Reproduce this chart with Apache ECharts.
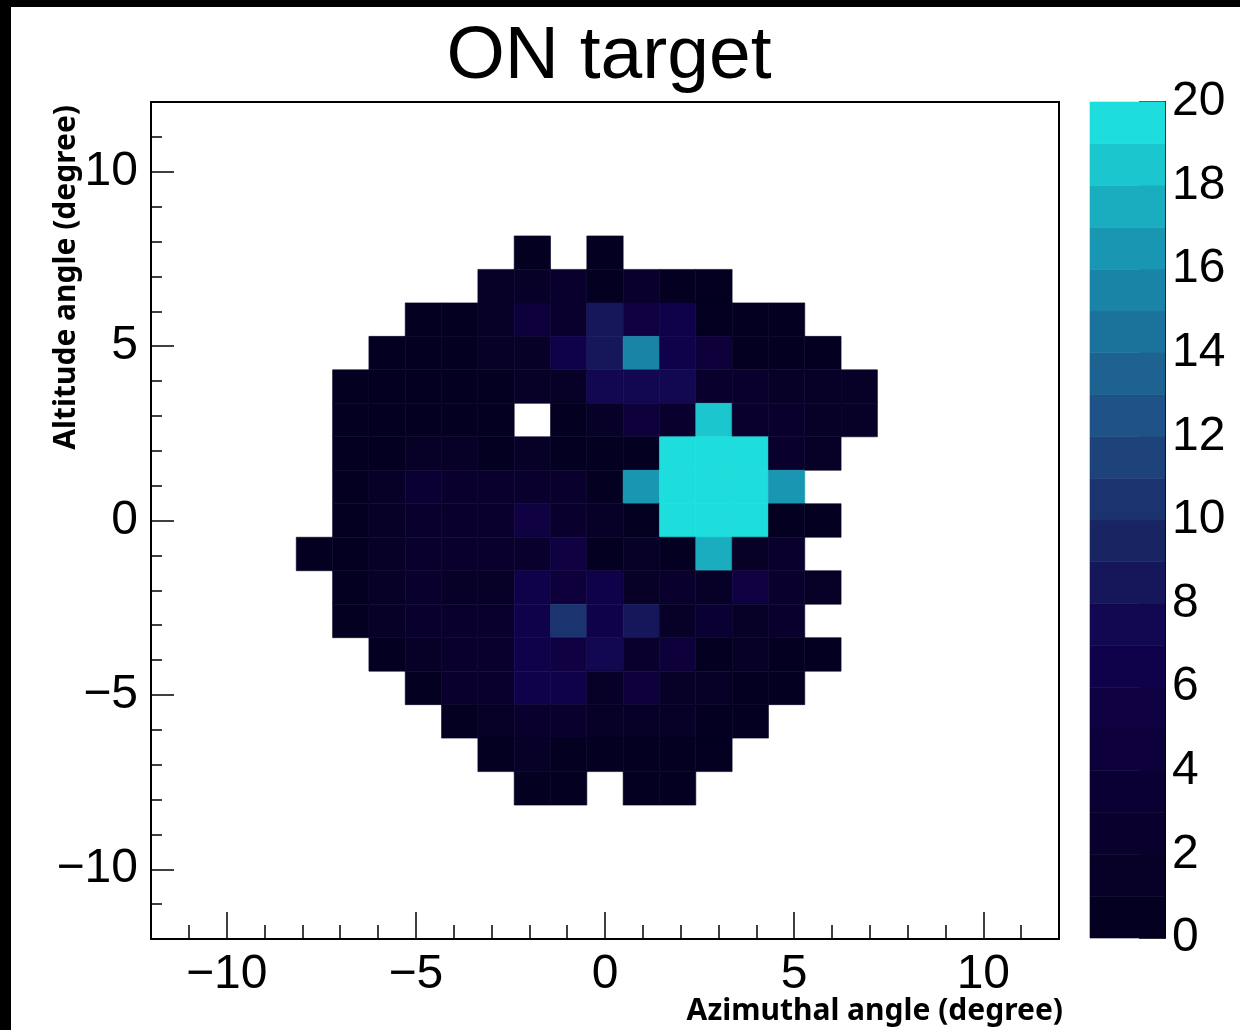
<!DOCTYPE html>
<html><head><meta charset="utf-8">
<script src="https://cdn.jsdelivr.net/npm/echarts@6/dist/echarts.min.js"></script>
<style>html,body{margin:0;padding:0;background:#fff}#chart{width:1240px;height:1030px}</style>
</head><body><div id="chart"></div>
<script>
// ---------------- data ----------------
const chartTitle = 'ON target';
const xTitle = 'Azimuthal angle (degree)';
const yTitle = 'Altitude angle (degree)';
const axisMin = -12, axisMax = 12, nBins = 25;
const majorTicks = [-10, -5, 0, 5, 10];
const minorTicks = [-11, -9, -8, -7, -6, -4, -3, -2, -1, 1, 2, 3, 4, 6, 7, 8, 9, 11];
const zMin = 0, zMax = 20, zInterval = 2;

// rows of the 25x25 histogram, counted from the top (row 4 = first filled row)
const firstRow = 4;
const rowStartCol = [10, 9, 7, 6, 5, 5, 5, 5, 5, 4, 5, 5, 6, 7, 8, 9, 10];
const row04 = [1, 0, 1];
const row05 = [2, 2, 3, 1, 3, 1, 1];
const row06 = [1, 1, 2, 5, 3, 9, 6, 7, 1, 1, 1];
const row07 = [1, 1, 1, 2, 2, 7, 9, 16, 7, 5, 1, 1, 1];
const row08 = [1, 1, 1, 1, 1, 2, 2, 8, 8, 8, 3, 3, 2, 2, 2];
const row09 = [1, 1, 1, 1, 1, 0, 1, 2, 5, 3, 19, 3, 3, 2, 2];
const row10 = [1, 1, 2, 2, 1, 2, 1, 1, 1, 20, 20, 20, 3, 2];
const row11 = [1, 2, 4, 3, 3, 3, 3, 1, 17, 20, 20, 20, 17];
const row12 = [1, 2, 3, 3, 3, 6, 3, 2, 1, 20, 20, 20, 1, 1];
const row13 = [1, 1, 2, 3, 3, 3, 3, 6, 1, 2, 1, 18, 2, 3];
const row14 = [1, 2, 3, 2, 2, 7, 5, 7, 2, 3, 2, 6, 3, 2];
const row15 = [1, 2, 3, 3, 3, 7, 11, 7, 9, 2, 4, 2, 3];
const row16 = [1, 2, 3, 3, 7, 6, 8, 3, 5, 1, 2, 1, 1];
const row17 = [1, 3, 3, 7, 7, 2, 5, 2, 2, 1, 1];
const row18 = [1, 2, 3, 3, 2, 2, 2, 1, 1];
const row19 = [1, 2, 1, 1, 1, 1, 1];
const row20 = [1, 1, 0, 1, 1];
const rows = [row04, row05, row06, row07, row08, row09, row10, row11, row12,
              row13, row14, row15, row16, row17, row18, row19, row20];

// ---------------- palette (ROOT kDeepSea, 20 contours) ----------------
const pStops = [0, .125, .25, .375, .5, .625, .75, .875, 1];
const pR = [0, 9, 13, 17, 24, 32, 27, 25, 29];
const pG = [0, 0, 0, 2, 37, 74, 113, 160, 221];
const pB = [28, 42, 59, 78, 98, 129, 154, 184, 221];
function deepSea(f) {
  let s = 0;
  while (s < pStops.length - 2 && f > pStops[s + 1]) s++;
  const t = (f - pStops[s]) / (pStops[s + 1] - pStops[s]);
  const c = a => Math.round(a[s] + (a[s + 1] - a[s]) * t);
  return 'rgb(' + c(pR) + ',' + c(pG) + ',' + c(pB) + ')';
}
const nLevels = (zMax - zMin);
const bandColors = [];
for (let i = 0; i < nLevels; i++) bandColors.push(deepSea(Math.floor((i + 0.99) * 255 / nLevels) / 254));

// ---------------- build cells ----------------
const binW = (axisMax - axisMin) / nBins;
const cells = [];
rows.forEach((vals, i) => {
  const r = firstRow + i;
  const yHi = axisMax - r * binW, yLo = yHi - binW;
  vals.forEach((v, j) => {
    if (v <= 0) return;
    const k = rowStartCol[i] + j;
    const xLo = axisMin + k * binW;
    cells.push([xLo, xLo + binW, yLo, yHi, v]);
  });
});
const barCells = [];
for (let i = 0; i < nLevels; i++) barCells.push([0, 1, zMin + i, zMin + i + 1, i]);

const pieces = bandColors.map((c, i) => ({ gt: zMin + i, lte: zMin + i + 1, color: c }));

const fmt = v => (v < 0 ? '\u2212' + Math.abs(v) : String(v));
const tickFont = 'Liberation Sans';

const chart = echarts.init(document.getElementById('chart'), null, { renderer: 'canvas' });
chart.setOption({
  animation: false,
  backgroundColor: '#fff',
  title: {
    text: chartTitle, left: 604, top: 15, textAlign: 'center',
    textStyle: { fontFamily: tickFont, fontSize: 75, fontWeight: 'normal', color: '#000' }
  },
  graphic: [
    { type: 'rect', left: 0, top: 0, shape: { width: 1240, height: 7 }, style: { fill: '#000' }, z: 100 },
    { type: 'rect', left: 0, top: 0, shape: { width: 11, height: 1030 }, style: { fill: '#000' }, z: 100 },
    { type: 'text', right: 177, top: 996, z: 100,
      style: { text: xTitle, fill: '#000', font: 'bold 30px "Noto Sans"' } }
  ],
  grid: [
    { left: 151, right: 181, top: 102, bottom: 91, containLabel: false, outerBoundsMode: 'none',
      show: true, borderColor: '#000', borderWidth: 2, backgroundColor: '#fff' },
    { left: 1090, width: 75, top: 102, bottom: 92, containLabel: false, outerBoundsMode: 'none' }
  ],
  visualMap: { type: 'piecewise', show: false, dimension: 4, seriesIndex: 0, pieces: pieces },
  xAxis: [
    {
      gridIndex: 0, type: 'value', min: axisMin, max: axisMax,
      axisLine: { onZero: false, lineStyle: { color: '#000', width: 2 } },
      axisTick: { customValues: majorTicks, inside: true, length: 27, lineStyle: { color: '#000', width: 1.5 } },
      axisLabel: { customValues: majorTicks, formatter: fmt, fontFamily: tickFont, fontSize: 48, color: '#000', margin: 12 },
      splitLine: { show: false }
    },
    {
      gridIndex: 0, type: 'value', min: axisMin, max: axisMax, position: 'bottom',
      axisLine: { show: false, onZero: false },
      axisTick: { customValues: minorTicks, inside: true, length: 14, lineStyle: { color: '#000', width: 1.5 } },
      axisLabel: { show: false }, splitLine: { show: false }
    },
    { gridIndex: 1, type: 'value', min: 0, max: 1, show: false }
  ],
  yAxis: [
    {
      gridIndex: 0, type: 'value', min: axisMin, max: axisMax,
      axisLine: { onZero: false, lineStyle: { color: '#000', width: 2 } },
      axisTick: { customValues: majorTicks, inside: true, length: 23, lineStyle: { color: '#000', width: 1.5 } },
      axisLabel: { customValues: majorTicks, formatter: fmt, fontFamily: tickFont, fontSize: 48, color: '#000', margin: 13 },
      splitLine: { show: false },
      name: yTitle, nameLocation: 'end', nameRotate: 90, nameGap: 0,
      nameTextStyle: { fontFamily: 'Noto Sans', fontWeight: 'bold', fontSize: 30, color: '#000', align: 'right', verticalAlign: 'bottom', padding: [0, 3, 70, 0] }
    },
    {
      gridIndex: 0, type: 'value', min: axisMin, max: axisMax, position: 'left',
      axisLine: { show: false, onZero: false },
      axisTick: { customValues: minorTicks, inside: true, length: 11, lineStyle: { color: '#000', width: 1.5 } },
      axisLabel: { show: false }, splitLine: { show: false }
    },
    {
      gridIndex: 1, type: 'value', min: zMin, max: zMax, interval: zInterval, position: 'right',
      axisLine: { show: true, onZero: false, lineStyle: { color: '#000', width: 2 } },
      axisTick: { inside: true, length: 26, lineStyle: { color: '#000', width: 1.5 } },
      axisLabel: { fontFamily: tickFont, fontSize: 48, color: '#000', margin: 7 },
      splitLine: { show: false }
    }
  ],
  series: [
    {
      type: 'custom', xAxisIndex: 0, yAxisIndex: 0, data: cells, encode: { x: [0, 1], y: [2, 3] },
      renderItem: function (params, api) {
        const p0 = api.coord([api.value(0), api.value(3)]);
        const p1 = api.coord([api.value(1), api.value(2)]);
        const c = api.visual('color');
        return { type: 'rect', shape: { x: p0[0], y: p0[1], width: p1[0] - p0[0], height: p1[1] - p0[1] },
                 style: { fill: c, stroke: c, lineWidth: 0.6 } };
      }
    },
    {
      type: 'custom', xAxisIndex: 2, yAxisIndex: 2, data: barCells, encode: { x: [0, 1], y: [2, 3] }, z: 1,
      renderItem: function (params, api) {
        const p0 = api.coord([api.value(0), api.value(3)]);
        const p1 = api.coord([api.value(1), api.value(2)]);
        const c = bandColors[api.value(4)];
        return { type: 'rect', shape: { x: p0[0], y: p0[1], width: p1[0] - p0[0], height: p1[1] - p0[1] },
                 style: { fill: c, stroke: c, lineWidth: 0.6 } };
      }
    }
  ]
});
</script></body></html>
